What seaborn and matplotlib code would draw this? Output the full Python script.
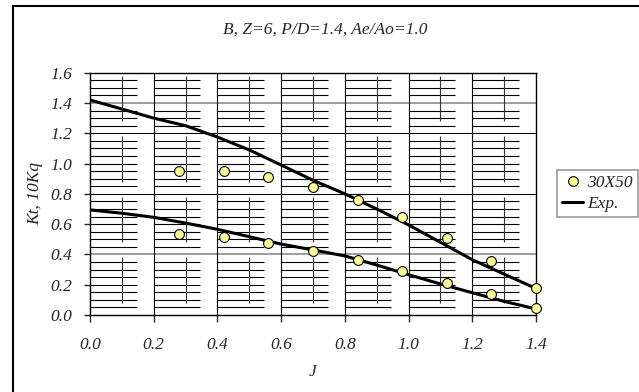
import numpy as np
import pandas as pd
import matplotlib
matplotlib.use("Agg")
import matplotlib.pyplot as plt
import seaborn as sns
from matplotlib.lines import Line2D

# Data
exp_j = [0.0, 0.1, 0.2, 0.3, 0.4, 0.5, 0.6, 0.7, 0.8, 0.9, 1.0, 1.1, 1.2, 1.3, 1.4]
exp_10kq = [1.42, 1.36, 1.30, 1.25, 1.175, 1.09, 0.99, 0.89, 0.80, 0.70, 0.595, 0.48, 0.365, 0.27, 0.175]
exp_kt = [0.694, 0.672, 0.645, 0.607, 0.566, 0.517, 0.468, 0.43, 0.39, 0.33, 0.266, 0.205, 0.147, 0.09, 0.04]

cfd_j = [0.28, 0.42, 0.56, 0.70, 0.84, 0.98, 1.12, 1.26, 1.40]
cfd_10kq = [0.951, 0.951, 0.914, 0.843, 0.760, 0.649, 0.511, 0.357, 0.176]
cfd_kt = [0.533, 0.513, 0.478, 0.425, 0.363, 0.293, 0.213, 0.137, 0.046]

x_ticks = [0.0, 0.2, 0.4, 0.6, 0.8, 1.0, 1.2, 1.4]
y_ticks = [0.0, 0.2, 0.4, 0.6, 0.8, 1.0, 1.2, 1.4, 1.6]

sns.set_style("white")
plt.rcParams['font.family'] = ['Liberation Serif', 'DejaVu Serif']
plt.rcParams['font.style'] = 'italic'
FS = 12.5

exp_df = pd.DataFrame({
    'J': exp_j * 2,
    'val': exp_10kq + exp_kt,
    'curve': ['10Kq'] * len(exp_j) + ['Kt'] * len(exp_j),
})
cfd_df = pd.DataFrame({
    'J': cfd_j * 2,
    'val': cfd_10kq + cfd_kt,
})

fig = plt.figure(figsize=(6.39, 3.92), dpi=100, facecolor='white')
ax = fig.add_axes([90 / 639, 1 - 315 / 392, 446 / 639, 242.3 / 392])
ax.set_xlim(0, 1.4)
ax.set_ylim(0, 1.6)

# grid imitation (the broken Excel-style grid)
grid_lw = 0.8
minor_y = np.round(np.arange(0.05, 1.6, 0.05), 3)
full_gray = [0.4, 1.4]
full_black = [0.8, 1.2]
seg_starts = np.arange(0, 1.4, 0.2)
for y in minor_y:
    if np.any(np.isclose(y, full_gray)):
        ax.axhline(y, color='#8c8c8c', lw=1.2, zorder=1)
    elif np.any(np.isclose(y, full_black)):
        ax.axhline(y, color='black', lw=grid_lw, zorder=1)
    else:
        ax.hlines(np.full(len(seg_starts), y), seg_starts, seg_starts + 0.146,
                  color='black', lw=grid_lw, zorder=1)
for x in x_ticks[1:-1]:
    ax.axvline(x, color='black', lw=grid_lw, zorder=1)
vseg = np.arange(0.08, 1.6, 0.4)
for x in np.arange(0.1, 1.4, 0.2):
    ax.vlines(np.full(len(vseg), x), vseg, np.minimum(vseg + 0.3, 1.6),
              color='#333333', lw=grid_lw, zorder=1)

sns.lineplot(data=exp_df, x='J', y='val', units='curve', estimator=None,
             color='black', lw=2.2, ax=ax, zorder=3, legend=False)
sns.scatterplot(data=cfd_df, x='J', y='val', color='#ffff99', edgecolor='black',
                linewidth=0.8, s=50, ax=ax, zorder=4, legend=False, clip_on=False)

for sp in ax.spines.values():
    sp.set_color('black')
    sp.set_linewidth(1.0)
ax.set_xticks(x_ticks)
ax.set_yticks(y_ticks)
ax.set_xticklabels([f"{t:.1f}" for t in x_ticks])
ax.set_yticklabels([f"{t:.1f}" for t in y_ticks])
ax.tick_params(axis='x', direction='out', length=5, width=1, pad=11, labelsize=FS, bottom=True)
ax.tick_params(axis='y', direction='out', length=4, width=1, pad=9, labelsize=FS, left=True)

ax.set_xlabel('J', fontsize=FS)
ax.set_ylabel('Kt, 10Kq', fontsize=FS)
ax.xaxis.set_label_coords(0.5, -0.234)
ax.xaxis.label.set_va('center')
ax.yaxis.set_label_coords(-0.123, 0.5)
ax.yaxis.label.set_va('center')

fig.text(325 / 639, 1 - 30 / 392, 'B, Z=6, P/D=1.4, Ae/Ao=1.0', ha='center', va='center',
         fontsize=FS)

# outer chart frame (only top and left edges visible)
fig.add_artist(Line2D([13 / 639, 13 / 639], [0, 1 - 6 / 392], color='black', lw=1.5,
                      transform=fig.transFigure))
fig.add_artist(Line2D([13 / 639, 1], [1 - 6 / 392, 1 - 6 / 392], color='black', lw=1.5,
                      transform=fig.transFigure))

handles = [
    Line2D([], [], ls='none', marker='o', markersize=7, markerfacecolor='#ffff99',
           markeredgecolor='black', markeredgewidth=0.8),
    Line2D([], [], color='black', lw=2.2),
]
leg = fig.legend(handles, ['30X50', 'Exp.'], loc='center', bbox_to_anchor=(597.5 / 639, 1 - 193.5 / 392),
                 fontsize=FS, frameon=True, fancybox=False, handlelength=1.2,
                 handletextpad=0.25, borderpad=0.3, labelspacing=0.25, borderaxespad=0)
leg.get_frame().set_edgecolor('#808080')
leg.get_frame().set_linewidth(1.2)

fig.savefig('out.png', dpi=100, facecolor='white')
